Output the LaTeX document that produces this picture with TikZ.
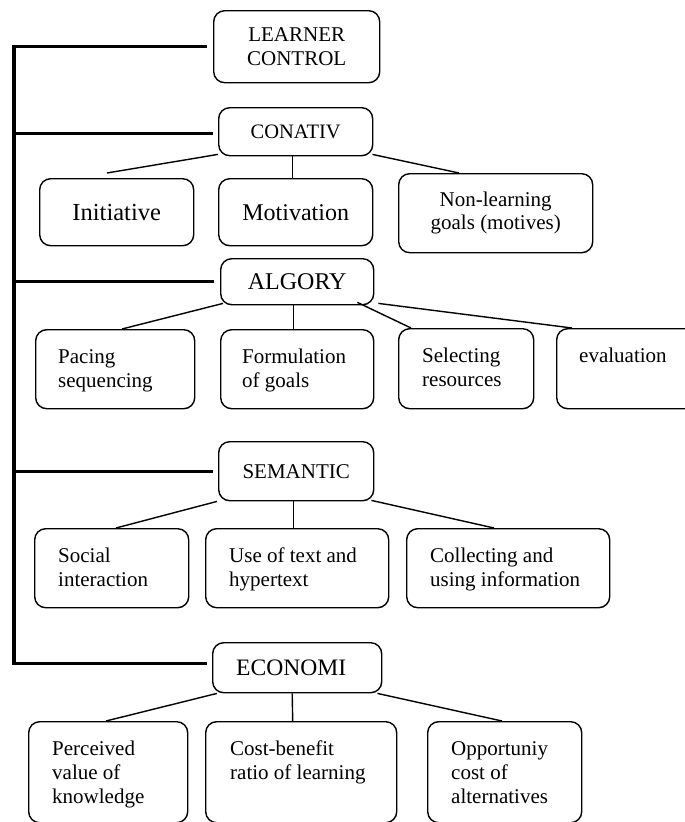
\documentclass[tikz,border=0pt]{standalone}
\usepackage{fontspec}
\setmainfont{Liberation Serif}
\tikzset{
  box/.style={draw, line width=1.4pt, rounded corners=11pt, inner sep=0pt, anchor=north west, align=center},
  thin/.style={line width=1.4pt},
  spineline/.style={line width=3.3pt},
  lbl/.style={inner sep=0pt, anchor=base west, font=\fontsize{21}{24.5}\selectfont},
  body/.style={font=\fontsize{21}{23.5}\selectfont},
}
\begin{document}
\begin{tikzpicture}[x=1pt,y=-1pt]
\useasboundingbox (0,0) rectangle (685,822);
\clip (0,0) rectangle (685,822);
% header boxes
\node[box, body, minimum width=166pt, minimum height=72pt] (lc) at (213,10) {LEARNER\\CONTROL};
\node[box, font=\fontsize{20.5}{24}\selectfont, minimum width=154pt, minimum height=48pt] (con) at (218,107) {CONATIV};
\node[box, font=\fontsize{24}{28}\selectfont, minimum width=153pt, minimum height=46pt] (alg) at (220,258) {ALGORY};
\node[box, body, minimum width=155pt, minimum height=59pt] (sem) at (218,441) {SEMANTIC};
\node[box, font=\fontsize{23.6}{28}\selectfont, minimum width=169pt, minimum height=50pt] (eco) at (212,642) {ECONOMI\hspace*{12pt}};
% conativ children
\node[box, font=\fontsize{24.5}{28}\selectfont, minimum width=154pt, minimum height=67pt] (ini) at (39,178) {Initiative};
\node[box, font=\fontsize{24}{28}\selectfont, minimum width=154pt, minimum height=67pt] (mot) at (218,178) {Motivation};
\node[box, body, minimum width=194pt, minimum height=79pt] (non) at (398,173) {Non-learning\\goals (motives)};
% algory children
\node[box, minimum width=159pt, minimum height=79pt] (pac) at (35,329) {};
\node[box, minimum width=153pt, minimum height=79pt] (for) at (220,329) {};
\node[box, minimum width=135pt, minimum height=80pt] (sel) at (398,328) {};
\node[box, minimum width=145pt, minimum height=80pt] (eva) at (556,328) {};
\node[lbl] (tpac) at (58,363) {\parbox[t]{150pt}{\raggedright Pacing\\sequencing}};
\node[lbl] (tfor) at (242,363) {\parbox[t]{150pt}{\raggedright Formulation\\of goals}};
\node[lbl] (tsel) at (422,362) {\parbox[t]{150pt}{\raggedright Selecting\\resources}};
\node[lbl] (teva) at (579,362) {\parbox[t]{150pt}{\raggedright evaluation}};
% semantic children
\node[box, minimum width=154pt, minimum height=79pt] (soc) at (34,528) {};
\node[box, minimum width=183pt, minimum height=79pt] (use) at (205,528) {};
\node[box, minimum width=203pt, minimum height=79pt] (col) at (406,528) {};
\node[lbl] (tsoc) at (58,562) {\parbox[t]{150pt}{\raggedright Social\\interaction}};
\node[lbl] (tuse) at (229,562) {\parbox[t]{170pt}{\raggedright Use of text and\\hypertext}};
\node[lbl] (tcol) at (430,562) {\parbox[t]{190pt}{\raggedright Collecting and\\using information}};
% economi children
\node[box, minimum width=159pt, minimum height=101pt] (per) at (28,721) {};
\node[box, minimum width=191pt, minimum height=101pt] (cos) at (205,721) {};
\node[box, minimum width=154pt, minimum height=101pt] (opp) at (427,721) {};
\node[lbl, font=\fontsize{21}{24}\selectfont] (tper) at (52,755) {\parbox[t]{150pt}{\raggedright Perceived\\value of\\knowledge}};
\node[lbl, font=\fontsize{21}{24}\selectfont] (tcos) at (230,755) {\parbox[t]{170pt}{\raggedright Cost-benefit\\ratio of learning}};
\node[lbl, font=\fontsize{21}{24}\selectfont] (topp) at (451,755) {\parbox[t]{150pt}{\raggedright Opportuniy\\cost of\\alternatives}};
% spine
\coordinate (sp) at (14,0);
\coordinate (ecoIn) at ([xshift=-5pt,yshift=4pt]eco.west);
\draw[spineline] ([xshift=-6pt]lc.west) -| (sp |- ecoIn) -- (ecoIn);
\draw[spineline] ([yshift=-2pt]sp |- con.west) -- ([xshift=-5pt,yshift=-2pt]con.west);
\draw[spineline] (sp |- alg.west) -- ([xshift=-6pt]alg.west);
\draw[spineline] (sp |- sem.west) -- ([xshift=-5pt]sem.west);
% conativ connectors
\draw[thin] ([yshift=2pt]con.south west) -- ([xshift=68pt,yshift=5pt]ini.north west);
\draw[thin] ([xshift=-3pt]con.south) -- ([xshift=-3pt]mot.north);
\draw[thin] ([xshift=-1pt,yshift=2pt]con.south east) -- ([xshift=61pt]non.north west);
% algory connectors
\draw[thin] ([xshift=3pt,yshift=2pt]alg.south west) -- ([xshift=87pt]pac.north west);
\draw[thin] ([xshift=-4pt]alg.south) -- ([xshift=-4pt]for.north);
\draw[thin] ([xshift=-17pt,yshift=3pt]alg.south east) -- ([xshift=13pt]sel.north west);
\draw[thin] ([xshift=4pt,yshift=2pt]alg.south east) -- ([xshift=16pt]eva.north west);
% semantic connectors
\draw[thin] ([xshift=-1pt]sem.south west) -- ([xshift=82pt]soc.north west);
\draw[thin] ([xshift=-3pt]sem.south) -- ([xshift=-4pt]use.north);
\draw[thin] ([xshift=-3pt,yshift=1pt]sem.south east) -- ([xshift=88pt]col.north west);
% economi connectors
\draw[thin] ([xshift=5pt]eco.south west) -- ([xshift=78pt]per.north west);
\draw[thin] ([xshift=-5pt]eco.south) -- ([xshift=-8.5pt]cos.north);
\draw[thin] ([xshift=-5pt]eco.south east) -- ([xshift=75pt]opp.north west);
\end{tikzpicture}
\end{document}
